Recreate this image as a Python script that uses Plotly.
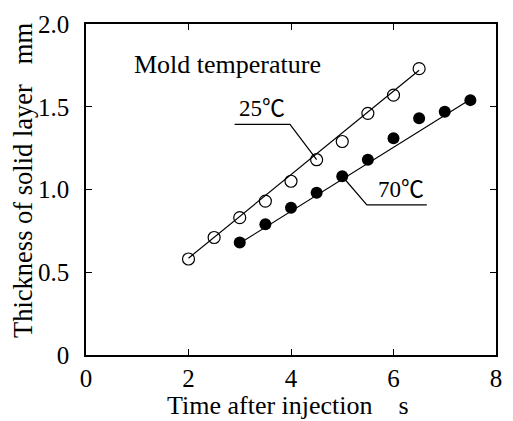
import plotly.graph_objects as go

# Data
time_25 = [2.0, 2.5, 3.0, 3.5, 4.0, 4.5, 5.0, 5.5, 6.0, 6.5]
thick_25 = [0.58, 0.71, 0.83, 0.93, 1.05, 1.18, 1.29, 1.46, 1.57, 1.73]
time_70 = [3.0, 3.5, 4.0, 4.5, 5.0, 5.5, 6.0, 6.5, 7.0, 7.5]
thick_70 = [0.68, 0.79, 0.89, 0.98, 1.08, 1.18, 1.31, 1.43, 1.47, 1.54]
fit25_x = [2.0, 6.5]
fit25_y = [0.585, 1.72]
fit70_x = [3.0, 7.55]
fit70_y = [0.675, 1.555]
xticks = [0, 2, 4, 6, 8]
xtick_text = ["0", "2", "4", "6", "8"]
yticks = [0, 0.5, 1.0, 1.5, 2.0]
ytick_text = ["0", "0.5", "1.0", "1.5", "2.0"]

SERIF = "Liberation Serif, Times New Roman, serif"
SERIF_CJK = "Liberation Serif, Noto Sans CJK JP, serif"

fig = go.Figure()
fig.add_trace(go.Scatter(x=fit25_x, y=fit25_y, mode="lines",
                         line=dict(color="black", width=1.2), showlegend=False, hoverinfo="skip"))
fig.add_trace(go.Scatter(x=fit70_x, y=fit70_y, mode="lines",
                         line=dict(color="black", width=1.2), showlegend=False, hoverinfo="skip"))
fig.add_trace(go.Scatter(x=time_25, y=thick_25, mode="markers",
                         marker=dict(symbol="circle-open", size=12, color="black", line=dict(width=1.2)),
                         showlegend=False))
fig.add_trace(go.Scatter(x=time_70, y=thick_70, mode="markers",
                         marker=dict(symbol="circle", size=12, color="black"),
                         showlegend=False))

# Leader lines for labels (underline + pointer to a data point)
p25 = (time_25[5], thick_25[5])
p70 = (time_70[4], thick_70[4])
fig.add_shape(type="path", xref="x", yref="y",
              path=f"M 2.9,1.393 L 3.98,1.393 L {p25[0]},{p25[1]}",
              line=dict(color="black", width=1.2))
fig.add_shape(type="path", xref="x", yref="y",
              path=f"M 6.65,0.907 L 5.48,0.907 L {p70[0]},{p70[1]}",
              line=dict(color="black", width=1.2))

fig.add_annotation(x=0.9, y=1.754, xref="x", yref="y", text="Mold temperature",
                   showarrow=False, xanchor="left", yanchor="middle",
                   font=dict(family=SERIF, size=26, color="black"))
fig.add_annotation(x=3.44, y=1.40, xref="x", yref="y", text="25\u2103",
                   showarrow=False, xanchor="center", yanchor="bottom",
                   font=dict(family=SERIF_CJK, size=23, color="black"))
fig.add_annotation(x=6.14, y=0.915, xref="x", yref="y", text="70\u2103",
                   showarrow=False, xanchor="center", yanchor="bottom",
                   font=dict(family=SERIF_CJK, size=23, color="black"))

# Axis titles
fig.add_annotation(x=(290.5 - 86) / 416, y=-(406 - 355) / 333, xref="paper", yref="paper",
                   text="Time after injection\u00a0\u00a0\u00a0\u00a0s", showarrow=False,
                   xanchor="center", yanchor="middle",
                   font=dict(family=SERIF, size=26, color="black"))
fig.add_annotation(x=(22 - 86) / 416, y=(355 - 179) / 333, xref="paper", yref="paper",
                   text="Thickness of solid layer\u00a0\u00a0\u00a0mm", showarrow=False, textangle=-90,
                   xanchor="center", yanchor="middle",
                   font=dict(family=SERIF, size=26.5, color="black"))

axis_common = dict(showgrid=False, zeroline=False, showline=True, linecolor="black", linewidth=1.5,
                   mirror="ticks", ticks="inside", ticklen=6, tickwidth=1.2, tickcolor="black",
                   tickfont=dict(family=SERIF, size=25, color="black"))
fig.update_xaxes(range=[0, 8], tickvals=xticks, ticktext=xtick_text, ticklabelstandoff=0, **axis_common)
fig.update_yaxes(range=[0, 2], tickvals=yticks, ticktext=ytick_text, ticklabelstandoff=10, **axis_common)

fig.update_layout(width=513, height=421, margin=dict(l=86, r=11, t=22, b=66),
                  paper_bgcolor="white", plot_bgcolor="white")

fig.write_html("out.html")
